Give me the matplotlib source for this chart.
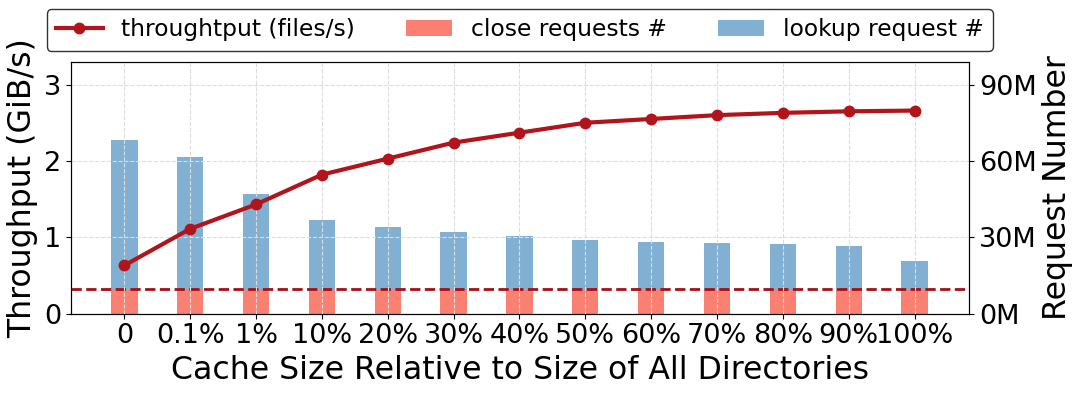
import numpy as np
import matplotlib
matplotlib.use("Agg")
import matplotlib.pyplot as plt

# data
cache_sizes = ["0", "0.1%", "1%", "10%", "20%", "30%", "40%", "50%",
               "60%", "70%", "80%", "90%", "100%"]
throughput = [0.63, 1.11, 1.43, 1.82, 2.03, 2.24, 2.37, 2.50,
              2.55, 2.60, 2.63, 2.65, 2.66]          # GiB/s
close_req = [9.6] * 13                               # millions
total_req = [68.1, 61.5, 46.8, 36.8, 34.0, 31.9, 30.3, 29.1,
             28.2, 27.7, 27.2, 26.6, 20.6]           # millions (close + lookup)
lookup_req = [t - c for t, c in zip(total_req, close_req)]
close_level = 9.6                                    # dashed reference line (M)

x = np.arange(len(cache_sizes))

fig = plt.figure(figsize=(10.79, 3.94), dpi=100)
ax = fig.add_axes([0.0658, 0.2043, 0.8325, 0.639])
ax2 = ax.twinx()

# bars on the right axis
ax2.bar(x, close_req, width=0.4, color="#fa8072", label="close requests #", zorder=2)
ax2.bar(x, lookup_req, width=0.4, bottom=close_req, color="#82b0d3",
        label="lookup request #", zorder=2)
ax2.axhline(close_level, color="#a50f15", ls="--", lw=2, zorder=3)

# throughput line on the left axis, drawn above the bars
ax.set_zorder(ax2.get_zorder() + 1)
ax.patch.set_visible(False)
ax.plot(x, throughput, "-o", color="#b2141c", lw=3, ms=7.5,
        label="throughtput (files/s)", zorder=4)

ax.set_xlim(-0.81, 12.83)
ax.set_ylim(0, 3.3)
ax2.set_ylim(0, 99)
ax.set_yticks([0, 1, 2, 3])
ax2.set_yticks([0, 30, 60, 90])
ax2.set_yticklabels(["0M", "30M", "60M", "90M"])
ax.set_xticks(x)
ax.set_xticklabels(cache_sizes)

ax.tick_params(labelsize=19.5)
ax2.tick_params(labelsize=19.5)
ax.grid(True, ls="--", color="#dddddd", lw=0.8)

ax.set_xlabel("Cache Size Relative to Size of All Directories", fontsize=22.7)
ax.set_ylabel("Throughput (GiB/s)", fontsize=22.7)
ax2.set_ylabel("Request Number", fontsize=22.7)

h1, l1 = ax.get_legend_handles_labels()
h2, l2 = ax2.get_legend_handles_labels()
leg = fig.legend(h1 + h2, l1 + l2, ncol=3, fontsize=16.8, loc="center",
                 bbox_to_anchor=(0.4818, 0.9239), frameon=True, fancybox=True,
                 edgecolor="black", columnspacing=2.17, handlelength=2.0)
leg.get_frame().set_linewidth(1.0)

plt.savefig("out.png", dpi=100)
